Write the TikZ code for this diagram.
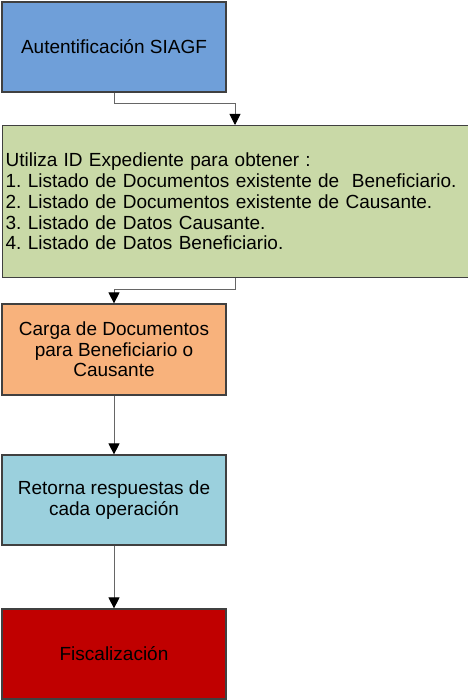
\documentclass[tikz,border=0pt]{standalone}
\usepackage{fontspec}
\setmainfont{Liberation Sans}
\usetikzlibrary{arrows.meta}
\frenchspacing

\definecolor{azul}{HTML}{6F9FD9}
\definecolor{verde}{HTML}{C9D9A7}
\definecolor{naranja}{HTML}{F8B27C}
\definecolor{celeste}{HTML}{9BD0DD}
\definecolor{rojo}{HTML}{C00000}
\definecolor{borde}{HTML}{404040}

\tikzset{%
  caja/.style={draw=borde, line width=1.2pt, minimum width=224pt, minimum height=90pt,
    align=center, inner sep=2pt, font=\fontsize{19}{20.7}\selectfont},%
  conn/.style={draw=black!60, line width=0.9pt, -{Triangle[width=11pt,length=11pt,black]}},%
}

\begin{document}
\begin{tikzpicture}[x=1pt, y=-1pt]%
  \useasboundingbox (0,0) rectangle (467,700);%
  \node [caja, fill=azul] (siagf) at (114,47) {Autentificación SIAGF};%
  \node [caja, fill=verde, anchor=north west, minimum width=474pt, minimum height=152pt,
    text width=468pt, inner xsep=3pt, align=left] (utiliza) at (2,125)
    {Utiliza ID Expediente para obtener :\\1. Listado de Documentos existente de \ Beneficiario.\\2. Listado de Documentos existente de Causante.\\3. Listado de Datos Causante.\\4. Listado de Datos Beneficiario.\\[4pt]};%
  \node [caja, fill=naranja, minimum height=91pt] (carga) at (114,349.5)
    {Carga de Documentos\\para Beneficiario o\\Causante};%
  \node [caja, fill=celeste] (retorna) at (114,500) {Retorna respuestas de\\cada operación};%
  \node [caja, fill=rojo] (fisca) at (114,654) {Fiscalización};%
  \coordinate (entra) at (235,125);%
  \draw [conn] (siagf.south) -- ++(0,11) -| (entra);%
  \draw [conn] (utiliza.south -| entra) -- ++(0,11) -| (carga.north);%
  \draw [conn] (carga) -- (retorna);%
  \draw [conn] (retorna) -- (fisca);%
\end{tikzpicture}
\end{document}
